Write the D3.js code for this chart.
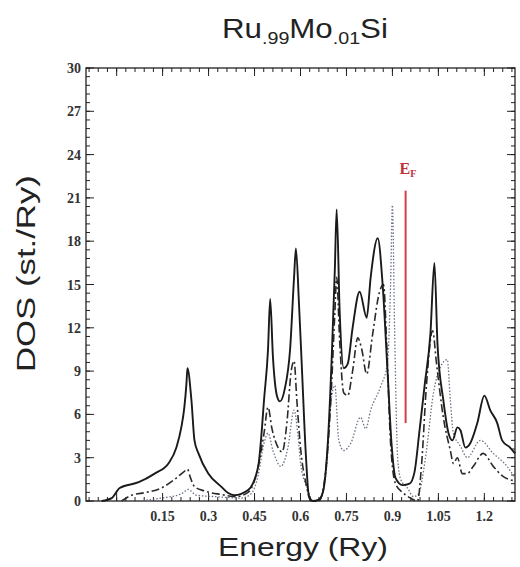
<!DOCTYPE html>
<html><head><meta charset="utf-8">
<script src="https://cdn.jsdelivr.net/npm/d3@7"></script>
<style>body{margin:0;background:#fff}</style>
</head><body>
<svg id="c" width="520" height="567"></svg>
<script>
// ---- data ----
const solidE = [-0.049,-0.016,0.010,0.072,0.124,0.169,0.195,0.211,0.221,0.228,0.231,0.244,0.254,0.267,0.299,0.341,0.364,0.384,0.429,0.462,0.471,0.481,0.494,0.501,0.510,0.523,0.533,0.549,0.566,0.579,0.585,0.595,0.605,0.618,0.627,0.640,0.660,0.673,0.689,0.702,0.712,0.718,0.728,0.741,0.754,0.770,0.793,0.816,0.829,0.852,0.868,0.884,0.897,0.910,0.933,0.956,0.972,0.988,1.005,1.024,1.037,1.047,1.066,1.083,1.096,1.112,1.122,1.138,1.154,1.177,1.200,1.219,1.242,1.258,1.284,1.300];
const solidDOS = [0,0.2,0.9,1.3,1.9,2.6,3.7,5.1,6.5,8.2,9.2,7.0,4.2,3.3,1.9,1.0,0.55,0.4,0.76,2.4,4.2,7,10.5,14,10,7.3,6.9,7.8,10.5,15.5,17.5,13.7,9,3,0.4,0,0.1,0.6,4,10,16,20.2,13,9.2,9.5,12,14.5,12.7,15.5,18.2,15,9,4,1.6,1.1,1.2,2,4.8,8,11.6,16.5,10.9,7,4.7,4.2,5.1,4.9,3.7,4.0,5.4,7.3,6.3,5.4,4.2,3.7,3.3];

const dashE = [0.016,0.049,0.098,0.146,0.189,0.218,0.231,0.241,0.254,0.286,0.341,0.390,0.429,0.462,0.481,0.494,0.507,0.527,0.540,0.556,0.569,0.579,0.588,0.601,0.618,0.634,0.660,0.679,0.699,0.712,0.718,0.728,0.741,0.754,0.770,0.787,0.800,0.816,0.835,0.858,0.871,0.881,0.894,0.910,0.933,0.959,0.982,0.995,1.011,1.031,1.044,1.066,1.089,1.099,1.112,1.128,1.144,1.164,1.196,1.229,1.261,1.300];
const dashDOS = [0,0.4,0.6,0.9,1.5,2.0,2.2,1.6,1.0,0.7,0.45,0.3,0.6,2.4,4.7,6.5,5.0,3.7,3.4,5.5,8.9,9.7,7,3.5,1.2,0,0,1.5,7,13,15.5,11,7.5,7.3,9,11.3,10.5,8.8,11.5,14.5,15,11,4,1.2,0.6,0.2,0,2.5,8,11.8,9.5,5.8,3.5,2.6,3.0,1.9,1.9,2.4,3.3,2.4,1.7,1.4];

const dotE = [0.065,0.146,0.211,0.234,0.260,0.325,0.406,0.439,0.462,0.481,0.494,0.510,0.536,0.559,0.579,0.592,0.601,0.624,0.640,0.666,0.686,0.699,0.712,0.725,0.741,0.764,0.796,0.813,0.829,0.861,0.884,0.894,0.900,0.907,0.917,0.927,0.949,0.969,0.985,1.008,1.034,1.057,1.079,1.089,1.099,1.122,1.144,1.187,1.229,1.274,1.300];
const dotDOS = [0,0.2,0.5,0.8,0.4,0.3,0.2,0.5,1.8,4.0,4.7,3.5,2.4,3.7,6.3,4.5,2.5,0.8,0,0.2,2.5,6.8,8,4.2,3.5,4.0,5.8,5.0,6.3,7.9,9.6,15,20.5,12,3,1.5,0.9,0.3,0.5,3,7.5,9.3,9.8,7,4.7,3.8,3.0,4.2,3.3,2.4,1.6];

const xTickLabels = ["0.15","0.3","0.45","0.6","0.75","0.9","1.05","1.2"];
const yTickLabels = ["0","3","6","9","12","15","18","21","24","27","30"];
const fermiE = 0.943;
const fermiRange = [5.4, 21.5];

// ---- layout ----
const svg = d3.select("#c");
const L = 86, R = 515, T = 68, B = 501;
const x = d3.scaleLinear().domain([-0.1, 1.3]).range([L, R]);
const y = d3.scaleLinear().domain([0, 30]).range([B, T]);

svg.append("rect").attr("x", L).attr("y", T).attr("width", R - L).attr("height", B - T)
  .attr("fill", "none").attr("stroke", "#222").attr("stroke-width", 1.3);

const g = svg.append("g");
const xMinor = d3.range(-0.09, 1.3, 0.03);
const xMajor = d3.range(0, 1.21, 0.15);
const yMinor = d3.range(0, 30.01, 0.6);
const yMajor = d3.range(0, 30.01, 3);
function tk(vals, len, axis) {
  vals.forEach(v => {
    if (axis === "x") {
      const px = x(v);
      g.append("line").attr("x1", px).attr("x2", px).attr("y1", B).attr("y2", B - len).attr("stroke", "#222").attr("stroke-width", 1);
      g.append("line").attr("x1", px).attr("x2", px).attr("y1", T).attr("y2", T + len).attr("stroke", "#222").attr("stroke-width", 1);
    } else {
      const py = y(v);
      g.append("line").attr("x1", L).attr("x2", L + len).attr("y1", py).attr("y2", py).attr("stroke", "#222").attr("stroke-width", 1);
      g.append("line").attr("x1", R).attr("x2", R - len).attr("y1", py).attr("y2", py).attr("stroke", "#222").attr("stroke-width", 1);
    }
  });
}
tk(xMinor, 4, "x"); tk(xMajor, 8, "x");
tk(yMinor, 4, "y"); tk(yMajor, 8, "y");

const tf = "'Liberation Serif', 'DejaVu Serif', serif";
svg.selectAll(".xl").data(xTickLabels).enter().append("text")
  .attr("x", d => x(+d)).attr("y", 521).attr("text-anchor", "middle")
  .attr("font-family", tf).attr("font-size", 14).attr("font-weight", "bold").attr("fill", "#333").text(d => d);
svg.selectAll(".yl").data(yTickLabels).enter().append("text")
  .attr("x", 81).attr("y", d => y(+d) + 5).attr("text-anchor", "end")
  .attr("font-family", tf).attr("font-size", 14).attr("font-weight", "bold").attr("fill", "#333").text(d => d);

const line = d3.line().x(d => x(d[0])).y(d => y(d[1])).curve(d3.curveMonotoneX);
const mk = (E, V) => E.map((e, i) => [e, V[i]]);
svg.append("path").datum(mk(dotE, dotDOS)).attr("d", line).attr("fill", "none")
  .attr("stroke", "#6a7384").attr("stroke-width", 1.3).attr("stroke-dasharray", "1.5,1.8");
svg.append("path").datum(mk(dashE, dashDOS)).attr("d", line).attr("fill", "none")
  .attr("stroke", "#2a2a2a").attr("stroke-width", 1.6).attr("stroke-dasharray", "8,3,2,3");
svg.append("path").datum(mk(solidE, solidDOS)).attr("d", line).attr("fill", "none")
  .attr("stroke", "#1a1a1a").attr("stroke-width", 1.9);

svg.append("line").attr("x1", x(fermiE)).attr("x2", x(fermiE))
  .attr("y1", y(fermiRange[1])).attr("y2", y(fermiRange[0]))
  .attr("stroke", "#d0404a").attr("stroke-width", 2);
const ef = svg.append("text").attr("x", x(fermiE) - 6).attr("y", 174)
  .attr("font-family", tf).attr("font-weight", "bold").attr("font-size", 16).attr("fill", "#c0303a");
ef.append("tspan").text("E");
ef.append("tspan").attr("font-size", 10).attr("dy", 3).text("F");

// stretch helper: scale text along its direction to match target extent
function fitX(sel, x0, x1) {
  const b = sel.node().getBBox();
  const s = (x1 - x0) / b.width;
  sel.attr("transform", `translate(${x0},0) scale(${s},1) translate(${-b.x},0)`);
}
const sf = "'Liberation Sans', Arial, sans-serif";
const ti = svg.append("text").attr("x", 0).attr("y", 38)
  .attr("font-family", sf).attr("font-size", 27).attr("fill", "#222");
ti.append("tspan").text("Ru");
ti.append("tspan").attr("font-size", 17).attr("dy", 6).text(".99");
ti.append("tspan").attr("dy", -6).text("Mo");
ti.append("tspan").attr("font-size", 17).attr("dy", 6).text(".01");
ti.append("tspan").attr("dy", -6).text("Si");
fitX(ti, 222, 388);

const xt = svg.append("text").attr("x", 0).attr("y", 556)
  .attr("font-family", sf).attr("font-size", 25).attr("fill", "#222").text("Energy (Ry)");
fitX(xt, 218, 388);

const yt = svg.append("text").attr("x", 0).attr("y", 0)
  .attr("font-family", sf).attr("font-size", 25).attr("fill", "#222").text("DOS (st./Ry)");
const yb = yt.node().getBBox();
const ys = 197 / yb.width;
yt.attr("transform", `translate(35,372) rotate(-90) scale(${ys},1) translate(${-yb.x},0)`);
</script>
</body></html>
